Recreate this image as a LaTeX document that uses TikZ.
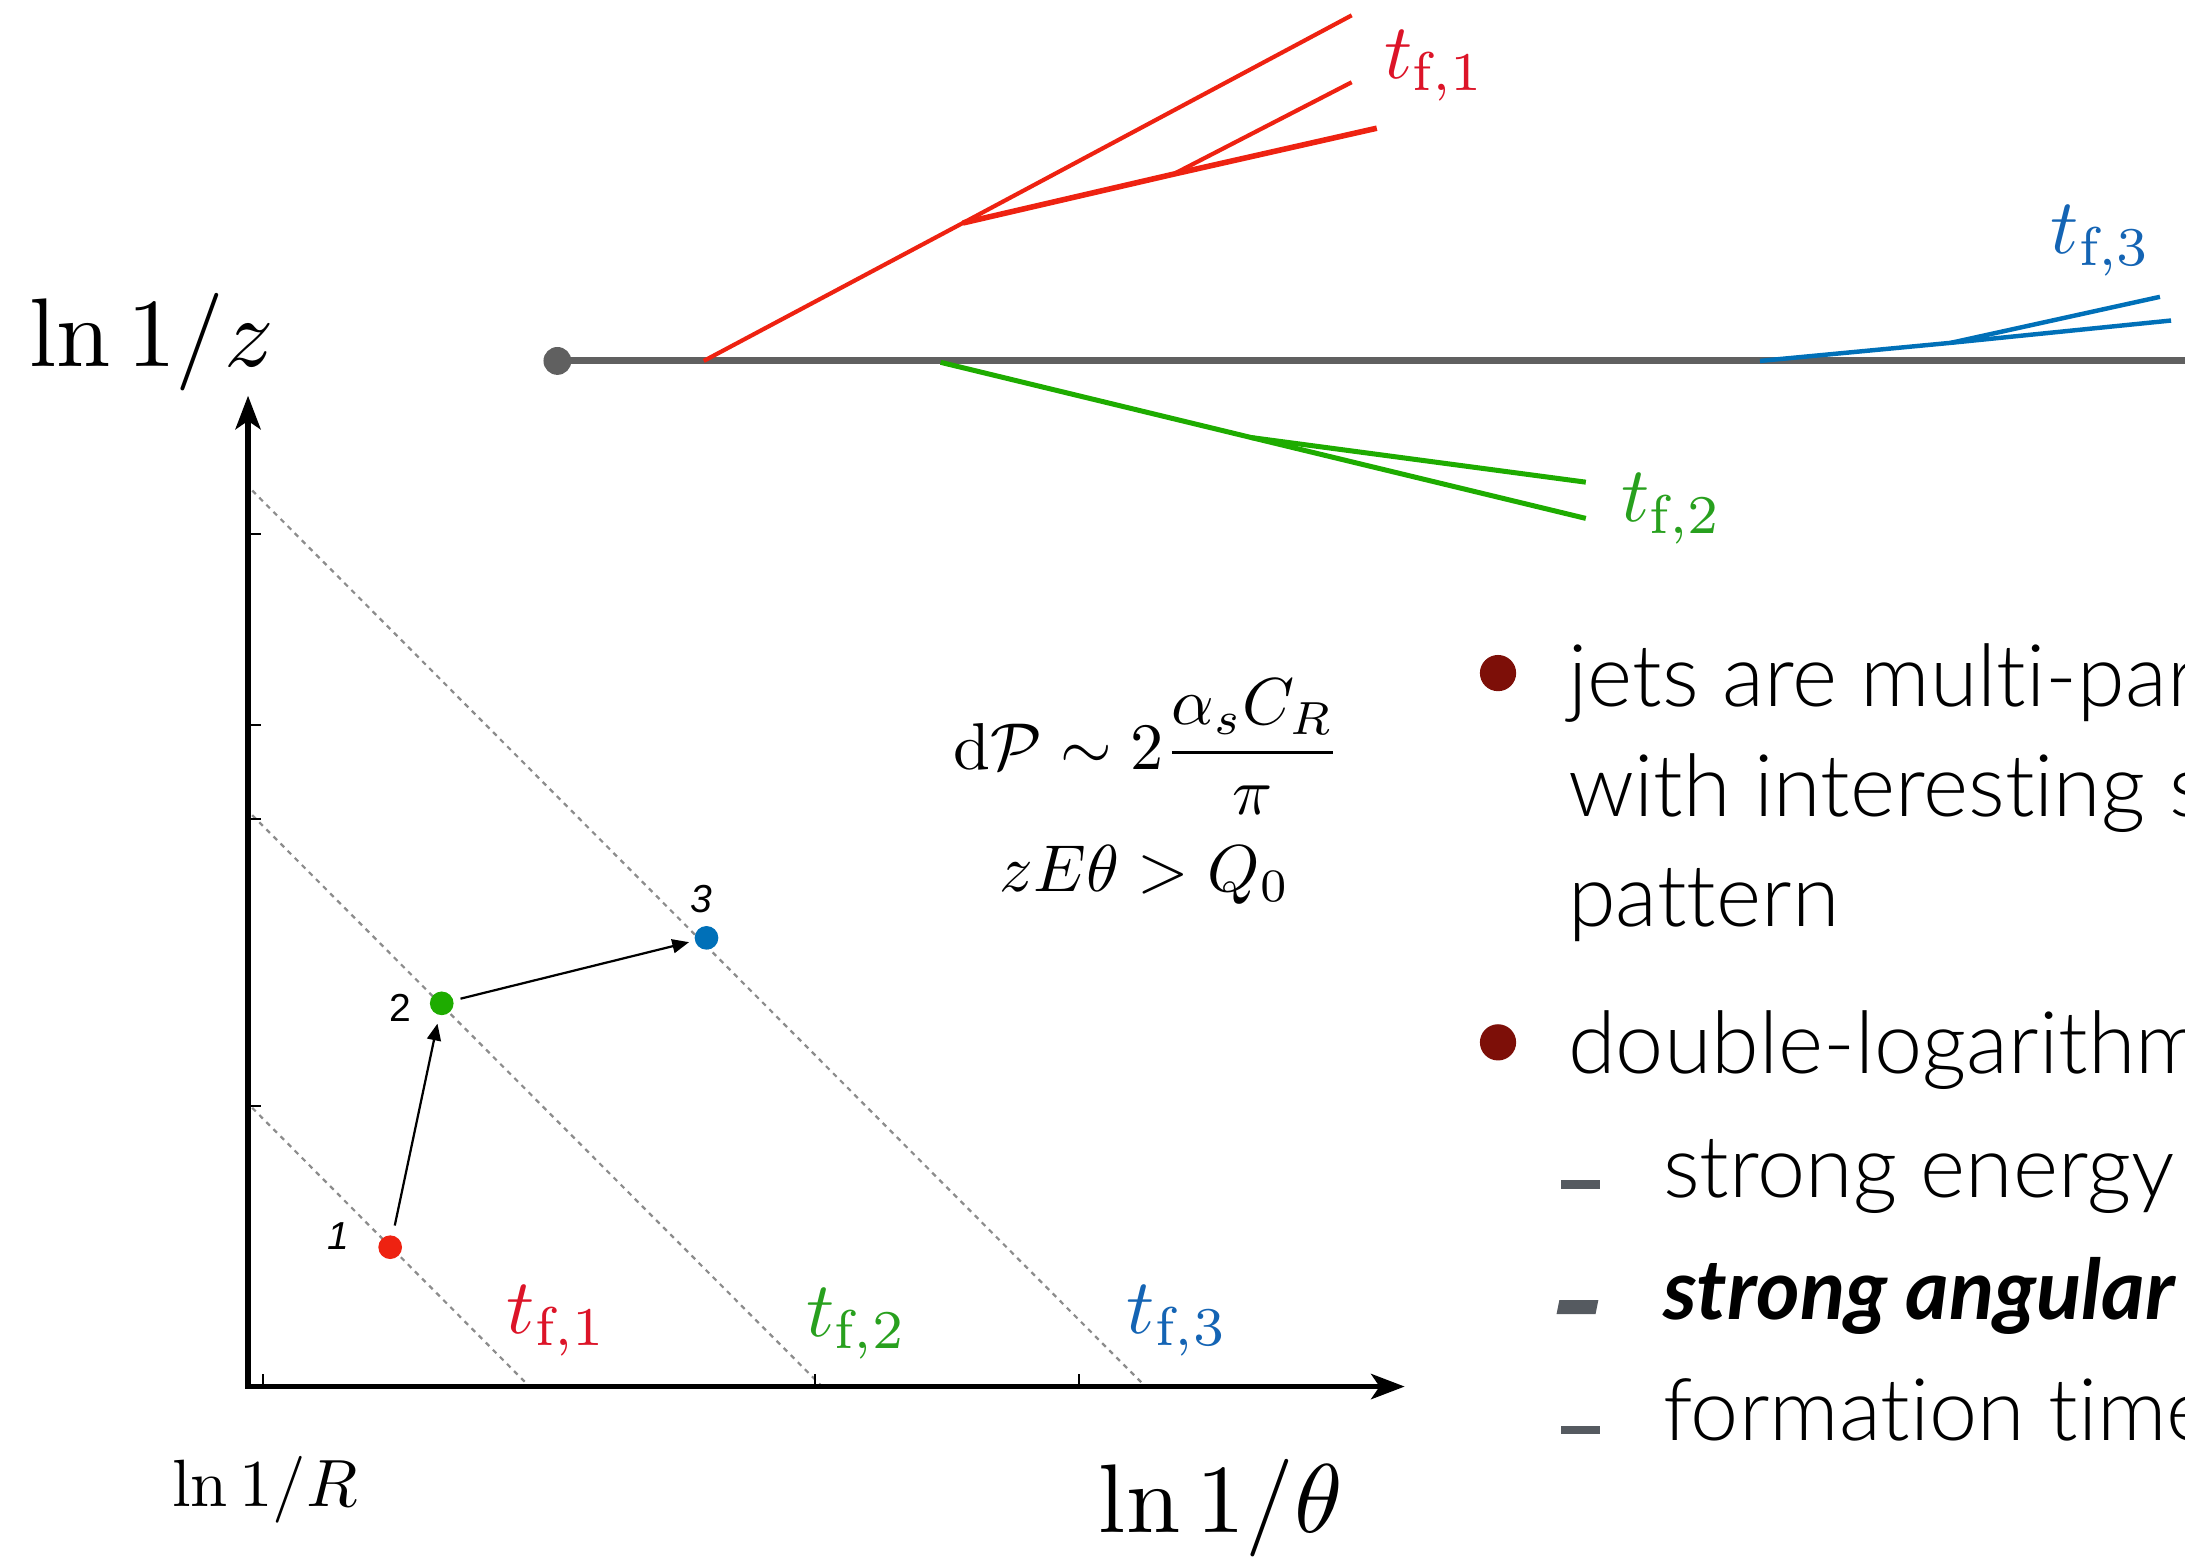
\RequirePackage{fix-cm}
\documentclass[tikz,border=0pt]{standalone}
\usepackage{fontspec}
\newfontfamily\gill{Lato Light}[Ligatures=NoCommon,BoldItalicFont={Lato Bold Italic}]
\newfontfamily\numfont{Liberation Sans}
\usetikzlibrary{arrows.meta}
\newcommand\tflab[1]{\scalebox{2.8}{$t_{\mathrm{f},#1}$}}
\definecolor{jetred}{RGB}{238,34,17}
\definecolor{tred}{RGB}{220,20,40}
\definecolor{jetgreen}{RGB}{30,172,0}
\definecolor{tgreen}{RGB}{40,160,30}
\definecolor{jetblue}{RGB}{0,112,184}
\definecolor{tblue}{RGB}{20,100,180}
\definecolor{jetgray}{RGB}{96,96,96}
\definecolor{bulred}{RGB}{125,15,8}
\definecolor{dashgray}{RGB}{85,90,96}
\definecolor{guide}{RGB}{140,140,140}
\begin{document}
\begin{tikzpicture}[x=0.5pt,y=-0.5pt,
  jetline/.style={line width=2.5pt,draw=jetgray},
  jetdot/.style={circle,fill=jetgray,inner sep=0pt,minimum size=10pt},
  redthin/.style={line width=1.5pt,draw=jetred},
  redthick/.style={line width=2pt,draw=jetred},
  greenline/.style={line width=1.8pt,draw=jetgreen},
  blueline/.style={line width=1.6pt,draw=jetblue},
  bigtf/.style={inner sep=0pt},
  axisline/.style={line width=2pt,draw=black,{Stealth[length=12pt,width=9pt,inset=3pt]}-{Stealth[length=12pt,width=9pt,inset=3pt]}},
  tickline/.style={line width=0.7pt,draw=black},
  guideline/.style={line width=0.8pt,draw=guide,dash pattern=on 1.8pt off 1.8pt},
  emission/.style={circle,inner sep=0pt,minimum size=8.5pt},
  numlabel/.style={font=\numfont\fontsize{14}{15}\selectfont,inner sep=0pt},
  smallarrow/.style={line width=0.8pt,-{Triangle[length=6pt,width=5pt]}},
  bullettext/.style={font=\gill\fontsize{31}{32}\selectfont,inner sep=0pt,anchor=base west},
  bulletdot/.style={circle,fill=bulred,inner sep=0pt,minimum size=13pt},
  mathlab/.style={inner sep=0pt,anchor=base}
]
\useasboundingbox (0,0) rectangle (1568,1121);
\clip (0,0) rectangle (1568,1121);

% ---------- parton shower ----------
\node[jetdot] (o) at (400,259) {};
\coordinate (jend) at (1580,259);
\draw[jetline] (o.center) -- (jend);

\coordinate (r0) at (505,259);
\coordinate (r1) at (691,160);
\coordinate (r2) at (842,125);
\coordinate (ra) at (970,11);
\coordinate (rb) at (970,59);
\coordinate (rc) at (988,92);
\draw[redthin] (r0) -- (r1) -- (ra);
\draw[redthick] (r1) -- (r2) -- (rc);
\draw[redthin] (r2) -- (rb);

\coordinate (g0) at (675,260);
\coordinate (g1) at (898,314);
\coordinate (ga) at (1138,346);
\coordinate (gb) at (1138,372);
\draw[greenline] (g0) -- (g1) -- (gb);
\draw[greenline] (g1) -- (ga);

\coordinate (b0) at (1263,259);
\coordinate (b1) at (1400,246);
\coordinate (ba) at (1550,213);
\coordinate (bb) at (1558,230);
\draw[blueline] (b0) -- (b1) -- (bb);
\draw[blueline] (b1) -- (ba);

\node[bigtf,text=tred] (top1) at (1030,47) {\tflab{1}};
\node[bigtf,text=tgreen] (top2) at (1200,365) {\tflab{2}};
\node[bigtf,text=tblue] (top3) at (1508,173) {\tflab{3}};

% ---------- Lund-type plane ----------
\coordinate (O) at (178,995);
\coordinate (ytop) at (178,284);
\coordinate (xend) at (1008,995);

\draw[guideline] (181,795) -- (380,995);
\draw[guideline] (181,585) -- (590,995);
\draw[guideline] (181,352) -- (822,995);

\draw[axisline] (ytop) -- (O) -- (xend);
\foreach \yy in {383,520,588,794} \draw[tickline] (178,\yy) -- ++(9,0);
\foreach \xx in {189,585,774} \draw[tickline] (\xx,995) -- ++(0,-9);

\node[mathlab] (ylab) at (109,263) {\scalebox{3.5}{$\ln 1/z$}};
\node[mathlab] (rlab) at (190,1081) {\scalebox{2.4}{$\ln 1/R$}};
\node[mathlab] (xlab) at (876,1100) {\scalebox{3.5}{$\ln 1/\theta$}};

\node[emission,fill=jetred] (p1) at (280,895) {};
\node[emission,fill=jetgreen] (p2) at (317,720) {};
\node[emission,fill=jetblue] (p3) at (507,673) {};
\node[numlabel] (n1) at (243,887) {\itshape 1};
\node[numlabel] (n2) at (287,723) {2};
\node[numlabel] (n3) at (503,645) {\itshape 3};
\draw[smallarrow,shorten <=3.5pt,shorten >=3pt] (p1) -- (p2);
\draw[smallarrow,shorten <=2.5pt,shorten >=2pt] (p2) -- (p3);

\node[bigtf,text=tred] (ax1) at (400,948) {\tflab{1}};
\node[bigtf,text=tgreen] (ax2) at (615,950) {\tflab{2}};
\node[bigtf,text=tblue] (ax3) at (845,948) {\tflab{3}};

\node[inner sep=0pt,anchor=base west] (f1) at (684,552)
  {\scalebox{2.38}{$\mathrm{d}\mathcal{P}\sim 2\displaystyle\frac{\alpha_s C_R}{\pi}$}};
\node[inner sep=0pt,anchor=base west] (f2) at (717,640)
  {\scalebox{2.38}{$zE\theta > Q_0$}};

% ---------- bullet text ----------
\node[bulletdot] (bu1) at (1075,483) {};
\node[bulletdot] (bu2) at (1075,748) {};
\node[bullettext] (l1) at (1125,507) {jets are multi-par};
\node[bullettext] (l2) at (1125,586) {with interesting s};
\node[bullettext] (l3) at (1125,665) {pattern};
\node[bullettext] (l4) at (1125,770) {double-logarithm};
\node[bullettext] (l5) at (1193,859) {strong energy};
\node[bullettext,font=\gill\bfseries\itshape\fontsize{30}{32}\selectfont] (l6) at (1193,947) {strong angular};
\node[bullettext] (l7) at (1193,1034) {formation time};
\fill[dashgray] (1120,847) rectangle (1148,853);
\fill[dashgray] (1119,933) -- (1147,933) -- (1145,943) -- (1117,943) -- cycle;
\fill[dashgray] (1120,1023) rectangle (1148,1029);
\end{tikzpicture}
\end{document}
